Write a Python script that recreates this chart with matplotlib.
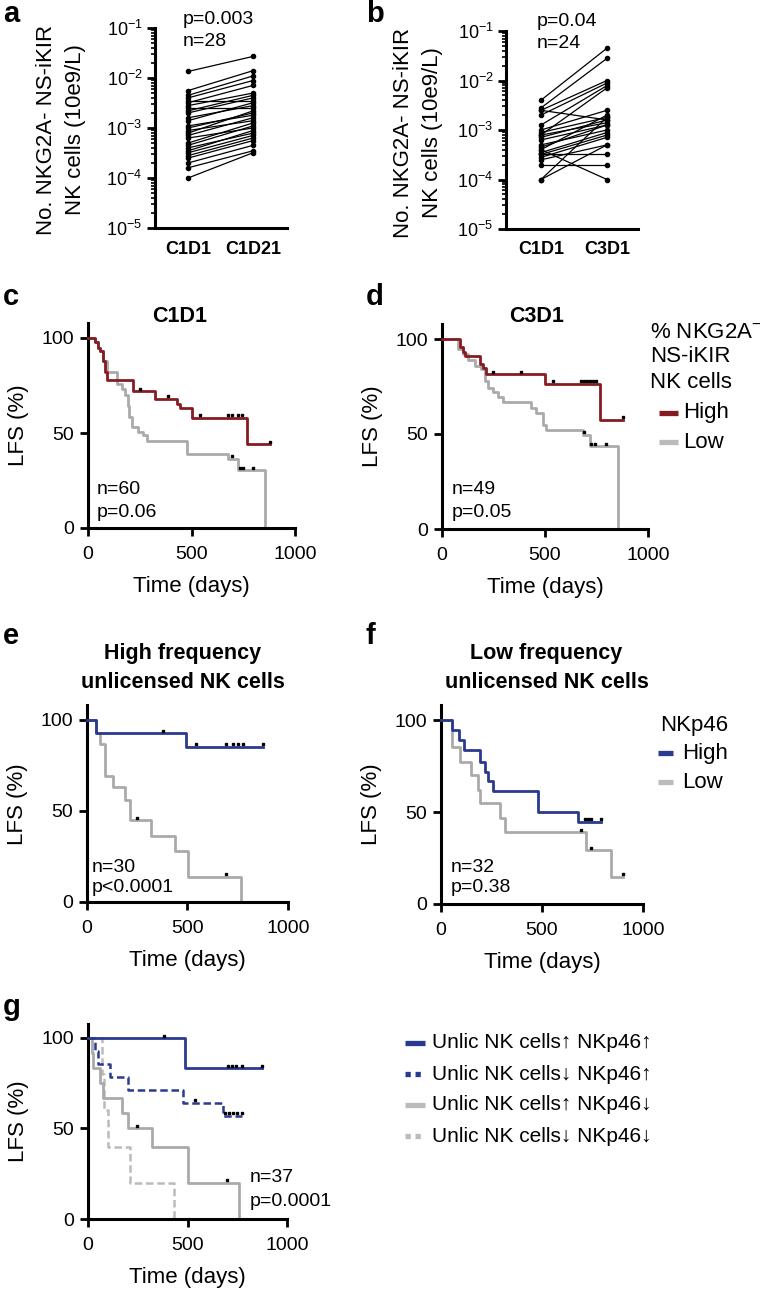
import numpy as np
import matplotlib
matplotlib.use('Agg')
import matplotlib.pyplot as plt
from matplotlib.lines import Line2D
from matplotlib.ticker import LogLocator, FixedLocator, NullFormatter

plt.rcParams['font.family'] = ['Liberation Sans', 'DejaVu Sans']
plt.rcParams['mathtext.fontset'] = 'custom'
plt.rcParams['mathtext.rm'] = 'Liberation Sans'
plt.rcParams['mathtext.it'] = 'Liberation Sans:italic'
plt.rcParams['mathtext.bf'] = 'Liberation Sans:bold'
plt.rcParams['mathtext.default'] = 'regular'

# ---------------- data ----------------
# panel a: paired counts (10e9/L)
a_labels = ['C1D1', 'C1D21']
a_c1d1 = [0.0135, 0.0056, 0.0045, 0.0040, 0.0035, 0.0032, 0.0028, 0.0025, 0.0022, 0.0020,
          0.0016, 0.0014, 0.0011, 0.0010, 0.00089, 0.00079, 0.00071, 0.00063, 0.0005, 0.00045,
          0.0004, 0.00035, 0.00032, 0.00028, 0.00025, 0.0002, 0.00016, 0.0001]
a_c1d21 = [0.027, 0.014, 0.011, 0.0089, 0.0035, 0.0071, 0.005, 0.0025, 0.0045, 0.004,
           0.0028, 0.0032, 0.0018, 0.002, 0.0014, 0.0022, 0.0016, 0.001, 0.00126, 0.0011,
           0.00079, 0.00089, 0.00071, 0.00063, 0.00056, 0.00045, 0.00035, 0.00032]
# panel b
b_labels = ['C1D1', 'C3D1']
b_c1d1 = [0.004, 0.0028, 0.0025, 0.0025, 0.002, 0.00126, 0.001, 0.00089, 0.00079, 0.00079,
          0.00071, 0.00063, 0.0005, 0.00045, 0.0004, 0.0004, 0.00035, 0.00032, 0.00032, 0.00028,
          0.00025, 0.0002, 0.0001, 0.0001]
b_c3d1 = [0.045, 0.028, 0.01, 0.0016, 0.0089, 0.0079, 0.0025, 0.0018, 0.0071, 0.0014,
          0.0016, 0.00126, 0.001, 0.00126, 0.002, 0.0001, 0.00089, 0.00079, 0.00032, 0.00071,
          0.0005, 0.0002, 0.0005, 0.0018]
y_decades = [1e-5, 1e-4, 1e-3, 1e-2, 1e-1]
y_decade_labels = [r'10$^{-5}$', r'10$^{-4}$', r'10$^{-3}$', r'10$^{-2}$', r'10$^{-1}$']

# panel c (C1D1)
c_high_t = [0, 34, 50, 58, 74, 82, 90, 219, 324, 428, 444, 500, 767, 879]
c_high_s = [100, 98, 95, 93, 88, 82, 78, 72, 68, 65.5, 63, 58, 44, 44]
c_high_cens = [251, 385, 541, 678, 694, 726, 742, 879]
c_low_t = [0, 34, 50, 58, 74, 90, 138, 163, 179, 192, 200, 211, 243, 267, 283, 477, 678, 726, 855]
c_low_s = [100, 98, 95, 93, 88, 82, 76, 73, 70, 64, 58.5, 53, 50.5, 49, 46, 39, 36.5, 30.5, 0]
c_low_cens = [694, 734, 750, 798]

# panel d (C3D1)
d_high_t = [0, 86, 102, 110, 183, 199, 215, 502, 765, 879]
d_high_s = [100, 96, 93, 91, 87, 84.5, 81.5, 76.5, 57.5, 57.5]
d_high_cens = [248, 385, 539, 676, 690, 705, 720, 735, 749, 879]
d_low_t = [0, 78, 102, 126, 159, 191, 207, 223, 248, 272, 296, 434, 458, 490, 506, 684, 717, 854]
d_low_s = [100, 95, 92, 89, 86, 84, 78, 74, 72, 69.5, 67, 63.5, 61, 54.5, 52, 49.5, 43.5, 0]
d_low_cens = [690, 725, 745, 798]

# panel e (high frequency unlicensed)
e_high_t = [0, 46, 494, 876]
e_high_s = [100, 92.7, 85.3, 85.3]
e_high_cens = [378, 544, 693, 726, 751, 776, 876]
e_low_t = [0, 46, 63, 88, 129, 187, 212, 320, 436, 502, 768]
e_low_s = [100, 93, 87, 69, 63, 56, 45, 36, 28, 14, 0]
e_low_cens = [249, 693]

# panel f (low frequency unlicensed)
f_high_t = [0, 54, 87, 114, 191, 216, 233, 257, 480, 678, 794]
f_high_s = [100, 94.6, 89, 83.7, 77.4, 72, 67, 61.4, 50.2, 44.7, 44.7]
f_high_cens = [711, 728, 745, 794]
f_low_t = [0, 54, 92, 150, 183, 191, 290, 315, 716, 843, 901]
f_low_s = [100, 85.5, 77.4, 70, 62, 54.7, 46.6, 39, 29.3, 14.9, 14.9]
f_low_cens = [695, 744, 901]

# panel g (combined groups)
g_hh_t = [0, 487, 873]
g_hh_s = [100, 83.3, 83.3]
g_hh_cens = [382, 705, 725, 745, 772, 873]
g_lh_t = [0, 35, 50, 109, 201, 477, 678, 772]
g_lh_s = [100, 92.9, 85.7, 78.6, 71.4, 64.3, 57.1, 57.1]
g_lh_cens = [538, 690, 710, 730, 750, 772]
g_hl_t = [0, 18, 27, 60, 77, 169, 203, 320, 504, 759]
g_hl_s = [100, 91.7, 83.3, 75, 66.7, 58.3, 50, 40, 20, 0]
g_hl_cens = [248, 697]
g_ll_t = [0, 72, 80, 102, 211, 434]
g_ll_s = [100, 80, 60, 40, 20, 0]
g_legend = ['Unlic NK cells\u2191 NKp46\u2191', 'Unlic NK cells\u2193 NKp46\u2191',
            'Unlic NK cells\u2191 NKp46\u2193', 'Unlic NK cells\u2193 NKp46\u2193']

RED = '#861C22'
BLUE = '#2A3A8E'
GRAY = '#AAAAAA'
LGRAY = '#BBBBBB'

# ---------------- figure ----------------
W, H = 760, 1291
fig = plt.figure(figsize=(W / 100, H / 100), dpi=100)


def add_ax(x0, x1, ytop, ybot):
    return fig.add_axes([x0 / W, 1 - ybot / H, (x1 - x0) / W, (ybot - ytop) / H])


def ftext(x, y, s, **kw):
    kw.setdefault('va', 'center')
    fig.text(x / W, 1 - y / H, s, **kw)


def fline(x0, x1, y, color, lw=3.8, dashes=None):
    ln = Line2D([x0 / W, x1 / W], [1 - y / H, 1 - y / H], transform=fig.transFigure,
                color=color, lw=lw, solid_capstyle='butt', dash_capstyle='butt')
    if dashes:
        ln.set_dashes(dashes)
    fig.add_artist(ln)


def paired(box, before, after, labels, xlim):
    ax = add_ax(*box)
    for b, a in zip(before, after):
        ax.plot([0, 1], [b, a], color='black', lw=0.9, marker='o', ms=3,
                mfc='black', mec='black', clip_on=False)
    ax.set_yscale('log')
    ax.set_ylim(1e-5, 1e-1)
    ax.set_xlim(*xlim)
    ax.set_xticks([0, 1])
    ax.set_xticklabels(labels, fontweight='bold', fontsize=13)
    ax.tick_params(axis='x', length=0, pad=9)
    ax.yaxis.set_major_locator(FixedLocator(y_decades))
    ax.set_yticklabels(y_decade_labels)
    ax.yaxis.set_minor_locator(LogLocator(base=10, subs=np.arange(2, 10), numticks=30))
    ax.yaxis.set_minor_formatter(NullFormatter())
    ax.tick_params(axis='y', which='major', length=6, width=2, labelsize=13, pad=3)
    ax.tick_params(axis='y', which='minor', length=3, width=1.2)
    for s in ['top', 'right']:
        ax.spines[s].set_visible(False)
    for s in ['left', 'bottom']:
        ax.spines[s].set_linewidth(2.2)
    return ax


def km_axes(box):
    ax = add_ax(*box)
    ax.set_xlim(0, 1000)
    ax.set_ylim(0, 108)
    ax.set_xticks([0, 500, 1000])
    ax.set_yticks([0, 50, 100])
    ax.tick_params(length=6, width=2, labelsize=14)
    ax.tick_params(axis='x', pad=7)
    ax.tick_params(axis='y', pad=4)
    for s in ['top', 'right']:
        ax.spines[s].set_visible(False)
    for s in ['left', 'bottom']:
        ax.spines[s].set_linewidth(2.2)
    ax.set_xlabel('Time (days)', fontsize=16, labelpad=9)
    ax.set_ylabel('LFS (%)', fontsize=16, labelpad=9)
    return ax


def km(ax, t, s, color, cens=None, dashes=None, lw=2.0, z=2):
    line, = ax.step(t, s, where='post', color=color, lw=lw, clip_on=False, zorder=z)
    if dashes:
        line.set_dashes(dashes)
    if cens:
        idx = np.searchsorted(t, cens, side='right') - 1
        ax.plot(cens, np.asarray(s)[idx] + 1.3, ls='none', marker='s', ms=2.0,
                color='black', clip_on=False, zorder=z + 1)


# ----- panel a -----
paired((155, 287, 28, 228), a_c1d1, a_c1d21, a_labels, (-0.508, 1.523))
ftext(183, 20, 'p=0.003', fontsize=14)
ftext(183, 42, 'n=28', fontsize=14)
ftext(61, 130, 'No. NKG2A- NS-iKIR\nNK cells (10e9/L)', fontsize=16, rotation=90,
      ha='center', multialignment='center', linespacing=1.45)

# ----- panel b -----
paired((506, 638, 31, 229), b_c1d1, b_c3d1, b_labels, (-0.53, 1.47))
ftext(537, 21, 'p=0.04', fontsize=14)
ftext(537, 43, 'n=24', fontsize=14)
ftext(418, 133, 'No. NKG2A- NS-iKIR\nNK cells (10e9/L)', fontsize=16, rotation=90,
      ha='center', multialignment='center', linespacing=1.45)

# ----- panel c -----
axc = km_axes((88, 295, 322.8, 528))
km(axc, c_low_t, c_low_s, GRAY, c_low_cens)
km(axc, c_high_t, c_high_s, RED, c_high_cens, z=3)
ftext(180, 317, 'C1D1', fontsize=15.5, fontweight='bold', ha='center')
ftext(97, 490, 'n=60', fontsize=14)
ftext(97, 513, 'p=0.06', fontsize=14)

# ----- panel d -----
axd = km_axes((442, 648, 323.8, 529))
km(axd, d_low_t, d_low_s, GRAY, d_low_cens)
km(axd, d_high_t, d_high_s, RED, d_high_cens, z=3)
ftext(537, 317, 'C3D1', fontsize=15.5, fontweight='bold', ha='center')
ftext(452, 490, 'n=49', fontsize=14)
ftext(452, 513, 'p=0.05', fontsize=14)

ftext(650, 357, '% NKG2A$^{-}$\nNS-iKIR\nNK cells', fontsize=16, linespacing=1.25)
fline(659, 678, 413, RED)
ftext(683, 413, 'High', fontsize=16)
fline(659, 678, 442, LGRAY)
ftext(683, 442, 'Low', fontsize=16)

# ----- panel e -----
axe = km_axes((87, 288, 705.4, 902))
km(axe, e_low_t, e_low_s, GRAY, e_low_cens)
km(axe, e_high_t, e_high_s, BLUE, e_high_cens, z=3)
ftext(183, 653, 'High frequency', fontsize=15.5, fontweight='bold', ha='center')
ftext(183, 683, 'unlicensed NK cells', fontsize=15.5, fontweight='bold', ha='center')
ftext(92, 867, 'n=30', fontsize=14)
ftext(92, 888, 'p<0.0001', fontsize=14)

# ----- panel f -----
axf = km_axes((441, 643, 705.3, 904))
km(axf, f_low_t, f_low_s, GRAY, f_low_cens)
km(axf, f_high_t, f_high_s, BLUE, f_high_cens, z=3)
ftext(546, 653, 'Low frequency', fontsize=15.5, fontweight='bold', ha='center')
ftext(547, 683, 'unlicensed NK cells', fontsize=15.5, fontweight='bold', ha='center')
ftext(451, 867, 'n=32', fontsize=14)
ftext(451, 888, 'p=0.38', fontsize=14)

ftext(660, 725, 'NKp46', fontsize=16)
fline(658, 673, 753, BLUE)
ftext(682, 753, 'High', fontsize=16)
fline(658, 673, 782, LGRAY)
ftext(682, 782, 'Low', fontsize=16)

# ----- panel g -----
axg = km_axes((88, 287, 1023.5, 1219))
km(axg, g_ll_t, g_ll_s, LGRAY, dashes=(3, 1.5), lw=1.8)
km(axg, g_hl_t, g_hl_s, GRAY, g_hl_cens)
km(axg, g_lh_t, g_lh_s, BLUE, g_lh_cens, dashes=(3, 1.5), lw=1.8, z=3)
km(axg, g_hh_t, g_hh_s, BLUE, g_hh_cens, z=3)
ftext(250, 1178, 'n=37', fontsize=14)
ftext(250, 1202, 'p=0.0001', fontsize=14)

g_styles = [(BLUE, None), (BLUE, (1.0, 0.9)), (LGRAY, None), (LGRAY, (1.0, 0.9))]
for i, (lab, (col, dsh)) in enumerate(zip(g_legend, g_styles)):
    yy = 1043 + i * 31
    fline(405, 425, yy, col, dashes=dsh)
    ftext(432, yy, lab, fontsize=15)

# ----- panel letters -----
for (x, y, l) in [(3, 14, 'a'), (366, 14, 'b'), (3, 297, 'c'), (366, 297, 'd'),
                  (3, 636, 'e'), (366, 636, 'f'), (3, 1007, 'g')]:
    ftext(x, y, l, fontsize=21, fontweight='bold')

fig.savefig('out.png', dpi=100)
